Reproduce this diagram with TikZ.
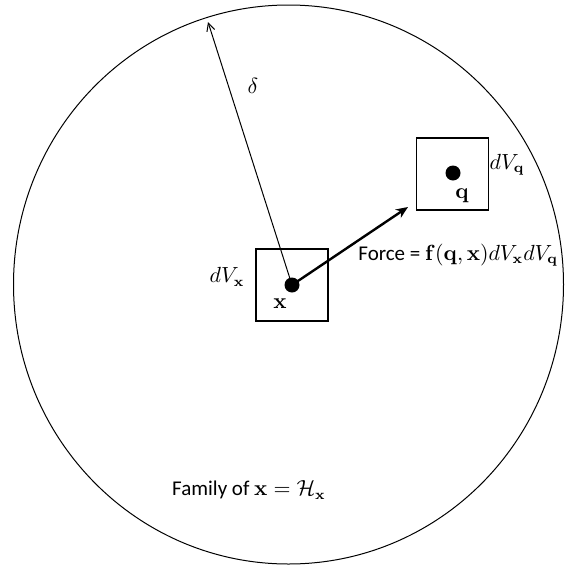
\documentclass[tikz,border=0pt]{standalone}
\usepackage[no-math]{fontspec}
\setmainfont{Carlito}
\usetikzlibrary{arrows.meta}
\begin{document}
\begin{tikzpicture}[x=0.5pt,y=-0.5pt,
  box/.style={draw,line width=0.75pt,minimum width=36pt,minimum height=36pt,inner sep=0pt},
  dot/.style={circle,fill,inner sep=0pt,minimum size=7.5pt},
  lbl/.style={inner sep=1pt,font=\fontsize{10.5}{12}\selectfont}]
\useasboundingbox (0,0) rectangle (565,568);
\draw[line width=0.5pt] (288.5,284.5) ellipse [x radius=275, y radius=279.5];
\node[box] (bx) at (292,285) {};
\node[box] (bq) at (452.5,174) {};
\node[dot] (dx) at (292,285) {};
\node[dot] (dq) at (453,173) {};
\coordinate (ftip) at (408,207);
\coordinate (rtip) at (208,22);
\draw[line width=0.5pt,-{Straight Barb[length=4pt,width=4pt]}] (dx.center) -- (rtip);
\draw[line width=1.2pt,-{Stealth[length=6pt,width=5pt]}] (dx.center) -- (ftip);
\node[lbl] (lx) at (280,304) {$\mathbf{x}$};
\node[lbl] (ldvx) at (227,277) {$dV_{\mathbf{x}}$};
\node[lbl] (lq) at (462,196) {$\mathbf{q}$};
\node[lbl] (ldvq) at (507,165) {$dV_{\mathbf{q}}$};
\node[lbl] (ldelta) at (253,86) {$\delta$};
\node[lbl,anchor=west] (lforce) at (356,255) {Force = $\mathbf{f}(\mathbf{q},\mathbf{x})dV_{\mathbf{x}}dV_{\mathbf{q}}$};
\node[lbl] (lfam) at (249,490) {Family of $\mathbf{x}=\mathcal{H}_{\mathbf{x}}$};
\end{tikzpicture}
\end{document}
